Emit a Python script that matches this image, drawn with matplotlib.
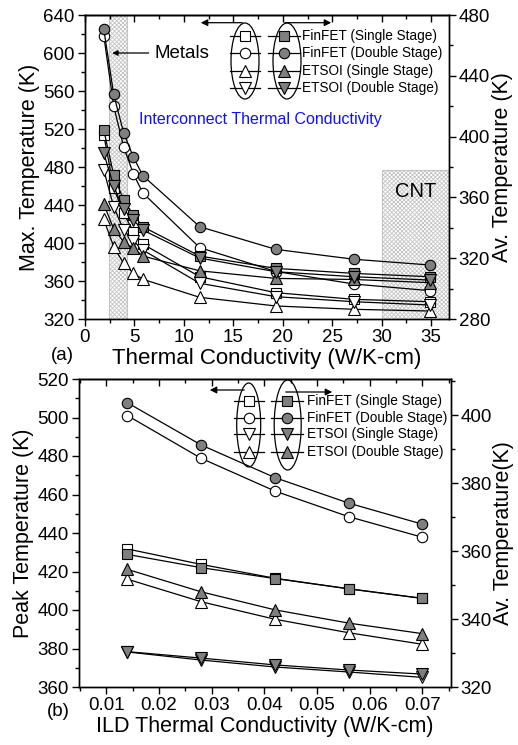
import matplotlib
matplotlib.use("Agg")
import matplotlib.pyplot as plt
from matplotlib.patches import Ellipse, FancyArrowPatch
from matplotlib.lines import Line2D
from matplotlib.ticker import MultipleLocator

plt.rcParams['font.family'] = ['Liberation Sans', 'DejaVu Sans']
plt.rcParams['hatch.linewidth'] = 0.6

# ---------------- data: panel (a) ----------------
k_metal = [1.9, 2.9, 3.9, 4.9, 5.85, 11.6, 19.3, 27.2, 34.9]
a_fin_single_max = [513.7, 458.0, 431.3, 411.9, 398.9, 364.5, 347.7, 340.7, 338.2]
a_fin_single_av = [404.3, 374.7, 358.3, 348.4, 340.7, 321.4, 313.3, 310.0, 307.8]
a_fin_double_max = [618.2, 544.2, 501.4, 472.6, 452.6, 395.1, 370.0, 356.8, 349.8]
a_fin_double_av = [470.6, 427.8, 402.6, 386.4, 374.3, 340.7, 325.8, 319.3, 315.5]
a_etsoi_single_max = [424.9, 396.1, 378.6, 368.1, 361.8, 342.8, 333.7, 330.2, 328.4]
a_etsoi_single_av = [355.6, 339.2, 330.8, 326.5, 321.4, 311.7, 306.7, 306.0, 303.9]
a_etsoi_double_max = [476.8, 438.2, 413.7, 402.0, 392.6, 357.6, 343.5, 338.2, 334.7]
a_etsoi_double_av = [389.0, 367.5, 352.1, 345.1, 338.5, 320.1, 311.1, 307.8, 305.6]

# ---------------- data: panel (b) ----------------
k_ild = [0.014, 0.028, 0.042, 0.056, 0.07]
b_fin_single_peak = [431.7, 423.7, 416.5, 411.0, 406.0]
b_fin_single_av = [359.0, 355.1, 351.9, 348.9, 346.1]
b_fin_double_peak = [501.0, 478.8, 461.8, 448.5, 437.8]
b_fin_double_av = [403.6, 391.2, 381.6, 374.1, 367.9]
b_etsoi_single_peak = [378.2, 374.0, 370.4, 367.8, 365.0]
b_etsoi_single_av = [330.4, 328.5, 326.5, 325.0, 323.8]
b_etsoi_double_peak = [416.0, 404.3, 395.2, 388.2, 382.2]
b_etsoi_double_av = [354.6, 348.0, 342.7, 338.8, 335.7]

labels_a = ['FinFET (Single Stage)', 'FinFET (Double Stage)',
            'ETSOI (Single Stage)', 'ETSOI (Double Stage)']
labels_b = ['FinFET (Single Stage)', 'FinFET (Double Stage)',
            'ETSOI (Single Stage)', 'ETSOI (Double Stage)']

W, H = 518, 745
fig = plt.figure(figsize=(W / 100, H / 100), dpi=100)

def fx(x):
    return x / W

def fy(y):
    return 1 - y / H

GRAY = '#7f7f7f'
HATCH_C = '#c4c4c4'
TICK_FS = 13.5
LAB_FS = 15.5
LEG_FS = 9.8

def style(m):
    return dict(marker=m, color='black', lw=0.9, ms=8 if m in ('^', 'v') else 7.5,
                mec='black', mew=0.8)

def style_axes(ax, ax2):
    for a in (ax, ax2):
        for s in a.spines.values():
            s.set_linewidth(1.0)
    ax.tick_params(axis='both', which='both', direction='out', labelsize=TICK_FS, width=1, pad=2.5)
    ax.tick_params(which='major', length=5)
    ax.tick_params(which='minor', length=3)
    ax2.tick_params(axis='y', which='both', direction='out', labelsize=TICK_FS, width=1, pad=2)
    ax2.tick_params(which='major', length=5)
    ax2.tick_params(which='minor', length=3)
    sec = ax.secondary_xaxis('top')
    sec.xaxis.set_major_locator(ax.xaxis.get_major_locator())
    sec.xaxis.set_minor_locator(ax.xaxis.get_minor_locator())
    sec.tick_params(which='both', direction='in', labeltop=False, width=1)
    sec.tick_params(which='major', length=5)
    sec.tick_params(which='minor', length=3)
    sec.spines['top'].set_linewidth(1.0)

def draw_legend(rows_y, xcol1, xcol2, ell1, ell2, text_x, markers, labels, arrL, arrR):
    for y, m, lab in zip(rows_y, markers, labels):
        ms = 8 if m in ('^', 'v') else 7.5
        fig.add_artist(Line2D([fx(xcol1 - 15), fx(xcol1 + 15)], [fy(y), fy(y)],
                              color='black', lw=0.9, transform=fig.transFigure))
        fig.add_artist(Line2D([fx(xcol1)], [fy(y)], marker=m, ms=ms,
                              mfc='white', mec='black', mew=0.8, transform=fig.transFigure))
        fig.add_artist(Line2D([fx(xcol2 - 16), fx(xcol2 + 16)], [fy(y), fy(y)],
                              color='black', lw=0.9, transform=fig.transFigure))
        fig.add_artist(Line2D([fx(xcol2)], [fy(y)], marker=m, ms=ms,
                              mfc=GRAY, mec='black', mew=0.8, transform=fig.transFigure))
        fig.text(fx(text_x), fy(y), lab, fontsize=LEG_FS, ha='left', va='center')
    for (cx, cy, w, h) in (ell1, ell2):
        fig.add_artist(Ellipse((fx(cx), fy(cy)), w / W, h / H, fill=False, ec='black',
                               lw=0.9, transform=fig.transFigure))
    for (x0, x1, y) in (arrL, arrR):
        fig.add_artist(FancyArrowPatch((fx(x0), fy(y)), (fx(x1), fy(y)),
                                       transform=fig.transFigure, arrowstyle='-|>',
                                       mutation_scale=10, color='black', lw=0.9))

# ================= panel (a) =================
axA = fig.add_axes([fx(85), fy(319), (449 - 85) / W, (319 - 15) / H])
axA2 = axA.twinx()
axA.set_xlim(0, 36.8)
axA.set_ylim(320, 640)
axA2.set_ylim(280, 480)

axA.axvspan(2.45, 4.2, facecolor='white', edgecolor=HATCH_C, hatch='xxxxxxxx', lw=0.8, zorder=0)
axA.fill_between([30, 36.8], 320, 477, facecolor='white', edgecolor=HATCH_C,
                 hatch='xxxxxxxx', lw=0.8, zorder=0)

axA.plot(k_metal, a_fin_single_max, mfc='white', **style('s'))
axA.plot(k_metal, a_fin_double_max, mfc='white', **style('o'))
axA.plot(k_metal, a_etsoi_single_max, mfc='white', **style('^'))
axA.plot(k_metal, a_etsoi_double_max, mfc='white', **style('v'))
axA2.plot(k_metal, a_fin_single_av, mfc=GRAY, **style('s'))
axA2.plot(k_metal, a_fin_double_av, mfc=GRAY, **style('o'))
axA2.plot(k_metal, a_etsoi_single_av, mfc=GRAY, **style('^'))
axA2.plot(k_metal, a_etsoi_double_av, mfc=GRAY, **style('v'))

axA.xaxis.set_major_locator(MultipleLocator(5))
axA.xaxis.set_minor_locator(MultipleLocator(2.5))
axA.yaxis.set_major_locator(MultipleLocator(40))
axA.yaxis.set_minor_locator(MultipleLocator(20))
axA2.yaxis.set_major_locator(MultipleLocator(40))
axA2.yaxis.set_minor_locator(MultipleLocator(20))
style_axes(axA, axA2)
axA.set_xlabel('Thermal Conductivity (W/K-cm)', fontsize=16, labelpad=1)
axA.set_ylabel('Max. Temperature (K)', fontsize=LAB_FS, labelpad=2)
axA2.set_ylabel('Av. Temperature (K)', fontsize=LAB_FS, labelpad=1)

axA.annotate('Metals', xy=(2.75, 600), xytext=(7.0, 600), fontsize=13.5, va='center', ha='left',
             arrowprops=dict(arrowstyle='-|>', color='black', lw=0.9, mutation_scale=8,
                             shrinkA=2, shrinkB=0))
axA.text(5.5, 530, 'Interconnect Thermal Conductivity', color='#1010ff', fontsize=11.5,
         va='center', ha='left')
axA.text(33.4, 454, 'CNT', fontsize=14.5, ha='center', va='center')

draw_legend([35.7, 53.3, 70.7, 88.3], 245, 284, (245, 61, 28, 76), (287, 61, 28, 76), 302.5,
            ['s', 'o', '^', 'v'], labels_a, (245, 198, 22.7), (282, 334, 22.7))

fig.text(fx(62), fy(355), '(a)', fontsize=13.5, ha='center', va='center')

# ================= panel (b) =================
axB = fig.add_axes([fx(79), fy(687), (450.7 - 79) / W, (687 - 379) / H])
axB2 = axB.twinx()
axB.set_xlim(0.0048, 0.0754)
axB.set_ylim(360, 520)
axB2.set_ylim(320, 410.6)

axB.plot(k_ild, b_fin_single_peak, mfc='white', **style('s'))
axB.plot(k_ild, b_fin_double_peak, mfc='white', **style('o'))
axB.plot(k_ild, b_etsoi_single_peak, mfc='white', **style('v'))
axB.plot(k_ild, b_etsoi_double_peak, mfc='white', **style('^'))
axB2.plot(k_ild, b_fin_single_av, mfc=GRAY, **style('s'))
axB2.plot(k_ild, b_fin_double_av, mfc=GRAY, **style('o'))
axB2.plot(k_ild, b_etsoi_single_av, mfc=GRAY, **style('v'))
axB2.plot(k_ild, b_etsoi_double_av, mfc=GRAY, **style('^'))

axB.xaxis.set_major_locator(MultipleLocator(0.01))
axB.xaxis.set_minor_locator(MultipleLocator(0.005))
axB.yaxis.set_major_locator(MultipleLocator(20))
axB.yaxis.set_minor_locator(MultipleLocator(10))
axB2.yaxis.set_major_locator(MultipleLocator(20))
axB2.yaxis.set_minor_locator(MultipleLocator(10))
axB.set_xticks([0.01, 0.02, 0.03, 0.04, 0.05, 0.06, 0.07])
axB.set_xticklabels(['0.01', '0.02', '0.03', '0.04', '0.05', '0.06', '0.07'])
style_axes(axB, axB2)
axB.set_xlabel('ILD Thermal Conductivity (W/K-cm)', fontsize=LAB_FS, labelpad=1)
axB.set_ylabel('Peak Temperature (K)', fontsize=LAB_FS, labelpad=2)
axB2.set_ylabel('Av. Temperature(K)', fontsize=LAB_FS, labelpad=1)

draw_legend([401, 417.7, 434.3, 451.7], 249.3, 287.3, (248.7, 425, 24, 84), (287.7, 425, 27, 90),
            307, ['s', 'o', 'v', '^'], labels_b, (247, 207, 390), (283, 335, 392))

fig.text(fx(58), fy(712), '(b)', fontsize=13.5, ha='center', va='center')

fig.savefig('out.png', dpi=100)
